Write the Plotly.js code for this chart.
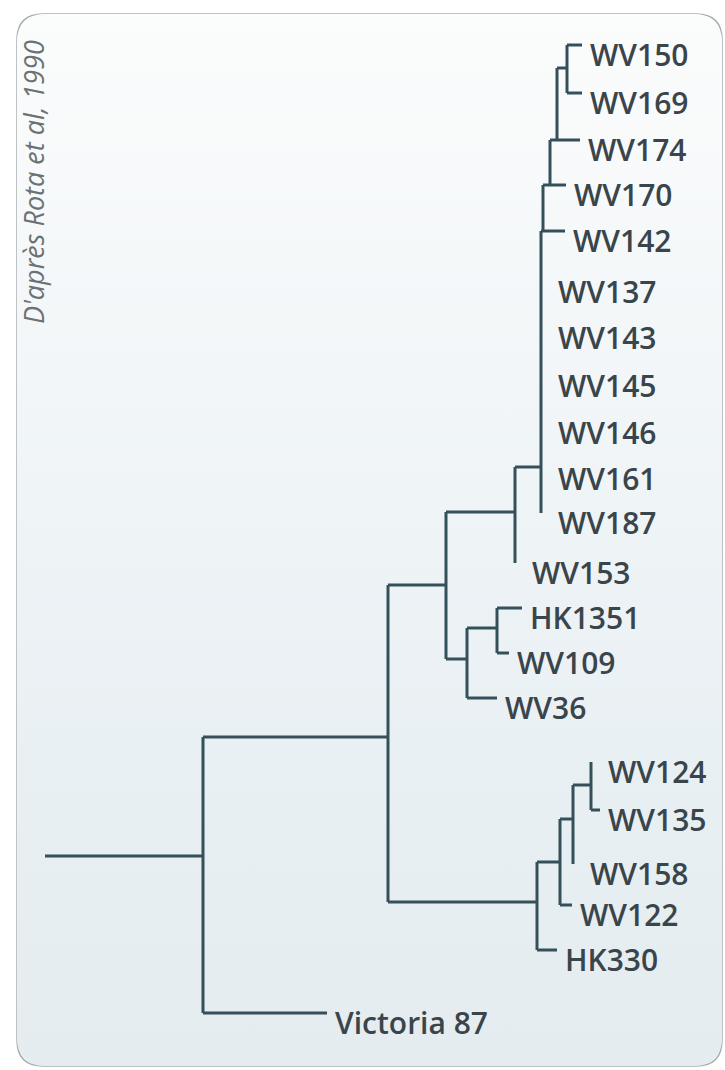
<!DOCTYPE html>
<html>
<head>
<meta charset="utf-8">
<script src="https://cdn.plot.ly/plotly-3.0.1.min.js"></script>
<style>html,body{margin:0;padding:0;background:#fff;}#chart{width:725px;height:1070px;}</style>
</head>
<body>
<div id="chart"></div>
<script>
// ---- Tree data (horizontal = cumulative branch distance, vertical = leaf order position) ----
// internal nodes
const nodeIds     = ['O',  'R',  'J',  'G',  'A',  'B',  'C',  'D',  'E',  'F',  'H',  'I',  'L1', 'L2', 'L3', 'L4'];
const nodeParents = [null, 'O',  'R',  'J',  'G',  'A',  'B',  'C',  'D',  'E',  'G',  'H',  'J',  'L1', 'L2', 'L3'];
const nodeDist    = [45,   203,  388,  446,  515,  541,  543,  550,  557,  567,  467,  497,  537,  560,  573,  591];
const nodeLevel   = [856,  856,  737,  585,  512,  467,  231,  185,  140,  68,   659,  628,  902,  862,  819,  785];
// leaves
const leafNames   = ['WV150','WV169','WV174','WV170','WV142','WV137','WV143','WV145','WV146','WV161','WV187','WV153','HK1351','WV109','WV36','WV124','WV135','WV158','WV122','HK330','Victoria 87'];
const leafParents = ['F',    'F',    'E',    'D',    'C',    'B',    'B',    'B',    'B',    'B',    'B',    'A',    'I',     'I',    'H',   'L4',   'L4',   'L3',   'L2',   'L1',   'R'];
const leafDist    = [582,    582,    580,    566,    565,    541,    541,    541,    541,    541,    541,    515,    522,     509,    497,   591,    600,    573,    572,    557,    327];
const leafLevel   = [45,     93,     140,    185,    231,    282,    328,    376,    423,    469,    513,    563,    608,     653,    698,   762,    810,    864,    905,    950,    1013];
const sourceNote  = "D'après Rota et al, 1990";

// ---- build geometry through the axes ----
const pos = {};
nodeIds.forEach((id, i) => pos[id] = {x: nodeDist[i], y: nodeLevel[i], kids: []});
leafNames.forEach((id, i) => pos[id] = {x: leafDist[i], y: leafLevel[i], kids: []});
nodeIds.forEach((id, i) => { if (nodeParents[i]) pos[nodeParents[i]].kids.push(id); });
leafNames.forEach((id, i) => pos[leafParents[i]].kids.push(id));

const lx = [], ly = [];
function seg(x0, y0, x1, y1) { lx.push(x0, x1, null); ly.push(y0, y1, null); }
// horizontals
nodeIds.forEach((id, i) => { const p = nodeParents[i]; if (p) seg(pos[p].x, pos[id].y, pos[id].x, pos[id].y); });
leafNames.forEach((id, i) => { const p = pos[leafParents[i]]; if (pos[id].x > p.x) seg(p.x, pos[id].y, pos[id].x, pos[id].y); });
// verticals
nodeIds.forEach(id => {
  const n = pos[id];
  if (id === 'O') return;
  const ys = n.kids.map(k => pos[k].y).concat([n.y]);
  seg(n.x, Math.min(...ys), n.x, Math.max(...ys));
});

const lineColor = '#34505b';
const traces = [{
  x: lx, y: ly, type: 'scatter', mode: 'lines',
  line: {color: lineColor, width: 3}, hoverinfo: 'skip', showlegend: false
}];

const annotations = leafNames.map((name, i) => {
  const p = pos[leafParents[i]];
  const zero = leafDist[i] <= p.x;
  return {
    x: leafDist[i] + (zero ? 15 : 6), y: leafLevel[i] + 9,
    xref: 'x', yref: 'y', xanchor: 'left', yanchor: 'middle',
    text: name, showarrow: false,
    font: {family: 'Open Sans, sans-serif', size: 30, weight: 600, color: '#3a454b'}
  };
});
annotations.push({
  x: 33, y: 182, xref: 'x', yref: 'y', textangle: -90,
  xanchor: 'center', yanchor: 'middle', showarrow: false,
  text: '<i>' + sourceNote + '</i>',
  font: {family: 'Open Sans, sans-serif', size: 27, color: '#6b7275'}
});

function roundRect(x0, y0, x1, y1, r) {
  return `M ${x0+r} ${y0} L ${x1-r} ${y0} Q ${x1} ${y0} ${x1} ${y0+r} L ${x1} ${y1-r} Q ${x1} ${y1} ${x1-r} ${y1} ` +
         `L ${x0+r} ${y1} Q ${x0} ${y1} ${x0} ${y1-r} L ${x0} ${y0+r} Q ${x0} ${y0} ${x0+r} ${y0} Z`;
}
// smooth panel gradient as an inline SVG image (no network)
const gradSvg = `<svg xmlns="http://www.w3.org/2000/svg" width="705" height="1052" viewBox="0 0 705 1052">` +
  `<defs><linearGradient id="g" x1="0" y1="0" x2="0" y2="1">` +
  `<stop offset="0" stop-color="#fbfcfc"/><stop offset="0.35" stop-color="#f2f6f8"/>` +
  `<stop offset="0.7" stop-color="#e9f0f3"/><stop offset="1" stop-color="#e4ecef"/></linearGradient></defs>` +
  `<rect x="0" y="0" width="705" height="1052" rx="26" ry="26" fill="url(#g)"/></svg>`;
const images = [{
  source: 'data:image/svg+xml;charset=utf-8,' + encodeURIComponent(gradSvg),
  xref: 'x', yref: 'y', x: 17, y: 14, sizex: 705, sizey: 1052,
  xanchor: 'left', yanchor: 'top', sizing: 'stretch', layer: 'below'
}];
const shapes = [
  {type: 'path', xref: 'x', yref: 'y', layer: 'below', path: roundRect(17, 14, 722, 1066, 26), fillcolor: 'rgba(0,0,0,0)', line: {color: '#a9aeb0', width: 1.5}}
];

const layout = {
  width: 725, height: 1070,
  margin: {l: 0, r: 0, t: 0, b: 0},
  paper_bgcolor: '#ffffff', plot_bgcolor: 'rgba(0,0,0,0)',
  xaxis: {range: [0, 725], visible: false, fixedrange: true},
  yaxis: {range: [1070, 0], visible: false, fixedrange: true},
  showlegend: false,
  annotations: annotations,
  shapes: shapes,
  images: images
};
Plotly.newPlot('chart', traces, layout, {displayModeBar: false, staticPlot: true});
</script>
</body>
</html>
